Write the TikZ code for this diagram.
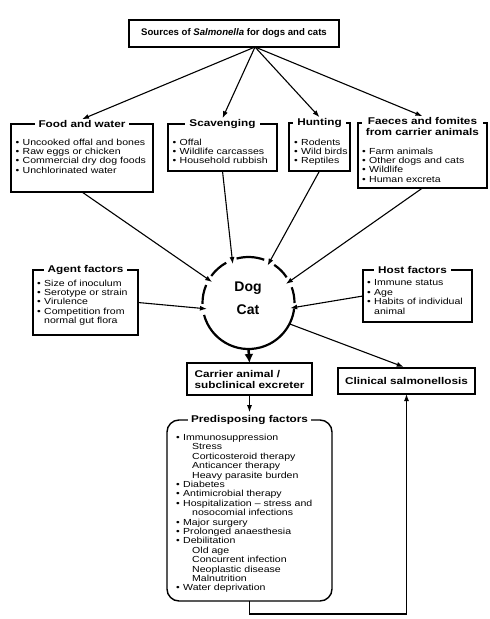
\documentclass[tikz,border=0pt]{standalone}
\usepackage{fontspec}
\newfontfamily\figfont[FakeStretch=1.2]{Liberation Sans}
\newfontfamily\headfont{Liberation Sans}
\usepackage{tikz}
\usetikzlibrary{arrows.meta, positioning}
\tikzset{>={Latex[length=7pt,width=5pt]}}

\newcommand{\itm}{\makebox[7pt][l]{\textbullet}}
\newcommand{\cont}{\hspace*{7pt}}
\newcommand{\subitm}{\hspace*{16pt}}

\tikzset{
  srcbox/.style={draw, line width=1.4pt, inner sep=0pt, outer sep=0pt},
  itemlist/.style={align=left, inner sep=0pt, font=\figfont\fontsize{8.8pt}{9.4pt}\selectfont},
  boxtitle/.style={fill=white, inner xsep=4pt, inner ysep=1pt, font=\figfont\bfseries\fontsize{9.8pt}{11pt}\selectfont},
  mainbox/.style={draw, line width=1.4pt, inner sep=0pt, outer sep=0pt, align=left, font=\figfont\bfseries\fontsize{9.8pt}{11pt}\selectfont},
  link/.style={->, line width=1.1pt},
}

\begin{document}
\begin{tikzpicture}[x=1pt, y=-1pt]
    \useasboundingbox (0,0) rectangle (490,619);

    % Sources
    \node[mainbox, minimum width=210pt, minimum height=27pt, align=center, font=\headfont\bfseries\fontsize{9.6pt}{11pt}\selectfont] (sources) at (234,33.5) {Sources of \textit{Salmonella} for dogs and cats};
    \coordinate (hub) at ([xshift=21pt]sources.south);

    \node[srcbox, minimum width=142pt, minimum height=68pt] (food) at (82,158) {};
    \node[srcbox, minimum width=109pt, minimum height=47pt] (scav) at (222.5,147.5) {};
    \node[srcbox, minimum width=61pt, minimum height=48pt] (hunt) at (319.5,147) {};
    \node[srcbox, minimum width=129pt, minimum height=65pt] (faeces) at (422.5,155.5) {};

    \node[itemlist, below right=14.6pt and 4.5pt of food.north west] (foodlist) {\itm Uncooked offal and bones\\ \itm Raw eggs or chicken\\ \itm Commercial dry dog foods\\ \itm Unchlorinated water};
    \node[itemlist, below right=14.6pt and 4.5pt of scav.north west] (scavlist) {\itm Offal\\ \itm Wildlife carcasses\\ \itm Household rubbish};
    \node[itemlist, below right=15.6pt and 5pt of hunt.north west] (huntlist) {\itm Rodents\\ \itm Wild birds\\ \itm Reptiles};
    \node[itemlist, below right=24.6pt and 4pt of faeces.north west] (faeceslist) {\itm Farm animals\\ \itm Other dogs and cats\\ \itm Wildlife\\ \itm Human excreta};

    \node[boxtitle] (foodtitle) at (food.north) {Food and water};
    \node[boxtitle] (scavtitle) at (scav.north) {Scavenging};
    \node[boxtitle] (hunttitle) at (hunt.north) {Hunting};
    \node[boxtitle, align=center] (faecestitle) at ([yshift=-3.5pt]faeces.north) {Faeces and fomites\\from carrier animals};

    % Factors
    \node[srcbox, minimum width=105pt, minimum height=65pt] (agent) at (85.5,302.5) {};
    \node[srcbox, minimum width=109pt, minimum height=52pt] (host) at (417.5,296) {};
    \node[itemlist, below right=9.6pt and 4pt of agent.north west] (agentlist) {\itm Size of inoculum\\ \itm Serotype or strain\\ \itm Virulence\\ \itm Competition from\\ \cont normal gut flora};
    \node[itemlist, below right=9.6pt and 4pt of host.north west] (hostlist) {\itm Immune status\\ \itm Age\\ \itm Habits of individual\\ \cont animal};
    \node[boxtitle] (agenttitle) at (agent.north) {Agent factors};
    \node[boxtitle] (hosttitle) at ([xshift=-5pt]host.north) {Host factors};

    % Dog / Cat
    \node[circle, minimum size=92pt, inner sep=0pt, outer sep=0pt] (ring) at (248.5,303) {};
    \node[circle, minimum size=84pt, inner sep=0pt, outer sep=0pt] (animal) at (ring) {};
    \node[align=center, font=\headfont\bfseries\fontsize{14pt}{23pt}\selectfont] (dogcat) at (248,298.5) {Dog\\Cat};
    \foreach \a/\b in {0/20, 34/56, 70/105, 119/144, 157/181, 195/353}
        \draw[line width=2.2pt] (ring.\a) arc[start angle=\a, end angle=\b, radius=46pt];

    % Outcomes
    \node[mainbox, minimum width=125pt, minimum height=32pt] (carrier) at (249.5,379) {Carrier animal /\\subclinical excreter};
    \node[mainbox, minimum width=137pt, minimum height=26pt] (clinical) at (406.5,381) {Clinical salmonellosis};

    \node[srcbox, rounded corners=12pt, minimum width=165pt, minimum height=181pt] (pred) at (249.5,510.5) {};
    \node[itemlist, below right=14pt and 9pt of pred.north west] (predlist) {\itm Immunosuppression\\ \subitm Stress\\ \subitm Corticosteroid therapy\\ \subitm Anticancer therapy\\ \subitm Heavy parasite burden\\ \itm Diabetes\\ \itm Antimicrobial therapy\\ \itm Hospitalization \textendash\ stress and\\ \subitm nosocomial infections\\ \itm Major surgery\\ \itm Prolonged anaesthesia\\ \itm Debilitation\\ \subitm Old age\\ \subitm Concurrent infection\\ \subitm Neoplastic disease\\ \subitm Malnutrition\\ \itm Water deprivation};
    \node[boxtitle, inner xsep=3pt] (predtitle) at (pred.north) {Predisposing factors};

    % Arrows
    \foreach \t in {foodtitle, scavtitle, hunttitle, faecestitle}
        \draw[link] (hub) -- (\t.north);
    \foreach \s/\a in {food.south/150, scav.south/112, hunt.south/63, faeces.south/27, agent.east/188, host.west/353}
        \draw[link] (\s) -- (animal.\a);
    \draw[line width=2.5pt, -{Latex[length=9pt,width=9pt]}] (ring.south) -- (carrier.north);
    \draw[link, shorten >=3pt] (ring.333) -- (clinical.north);
    \draw[link, shorten >=2pt] (carrier.south) -- (predtitle.north);
    \draw[link] (pred.south) -- ++(0,13) -| (clinical.south);
\end{tikzpicture}
\end{document}
